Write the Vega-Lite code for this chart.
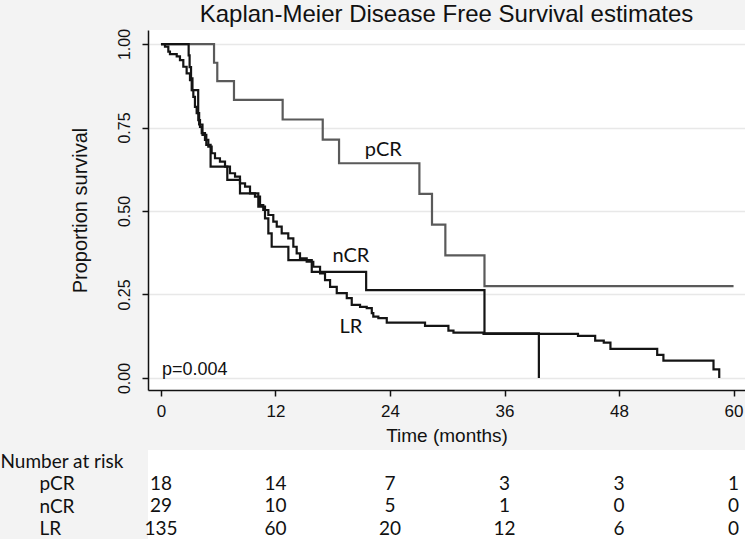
{
  "$schema": "https://vega.github.io/schema/vega-lite/v6.json",
  "background": "#f3f3f3",
  "padding": {"top": 3, "left": 0, "right": 0, "bottom": 0},
  "spacing": 5,
  "config": {"view": {"stroke": null}, "font": "Liberation Sans"},
  "datasets": {
    "km": [
      {"group": "pCR", "t": 0, "s": 1},
      {"group": "pCR", "t": 5.56, "s": 0.944},
      {"group": "pCR", "t": 5.9, "s": 0.889},
      {"group": "pCR", "t": 7.65, "s": 0.833},
      {"group": "pCR", "t": 12.75, "s": 0.774},
      {"group": "pCR", "t": 16.95, "s": 0.714},
      {"group": "pCR", "t": 18.66, "s": 0.643},
      {"group": "pCR", "t": 27.08, "s": 0.551},
      {"group": "pCR", "t": 28.4, "s": 0.459},
      {"group": "pCR", "t": 29.8, "s": 0.367},
      {"group": "pCR", "t": 33.9, "s": 0.275},
      {"group": "pCR", "t": 60, "s": 0.275},
      {"group": "nCR", "t": 0, "s": 1},
      {"group": "nCR", "t": 2.9, "s": 0.966},
      {"group": "nCR", "t": 3.0, "s": 0.931},
      {"group": "nCR", "t": 3.15, "s": 0.897},
      {"group": "nCR", "t": 3.3, "s": 0.862},
      {"group": "nCR", "t": 3.9, "s": 0.793},
      {"group": "nCR", "t": 4.0, "s": 0.759},
      {"group": "nCR", "t": 4.35, "s": 0.728},
      {"group": "nCR", "t": 4.75, "s": 0.698},
      {"group": "nCR", "t": 5.2, "s": 0.633},
      {"group": "nCR", "t": 6.95, "s": 0.593},
      {"group": "nCR", "t": 8.28, "s": 0.553},
      {"group": "nCR", "t": 10.2, "s": 0.513},
      {"group": "nCR", "t": 10.9, "s": 0.478},
      {"group": "nCR", "t": 11.25, "s": 0.433},
      {"group": "nCR", "t": 11.6, "s": 0.393},
      {"group": "nCR", "t": 13.35, "s": 0.353},
      {"group": "nCR", "t": 15.8, "s": 0.318},
      {"group": "nCR", "t": 21.5, "s": 0.263},
      {"group": "nCR", "t": 33.9, "s": 0.134},
      {"group": "nCR", "t": 39.6, "s": 0},
      {"group": "LR", "t": 0, "s": 1},
      {"group": "LR", "t": 0.42, "s": 0.992},
      {"group": "LR", "t": 0.77, "s": 0.977},
      {"group": "LR", "t": 0.94, "s": 0.97},
      {"group": "LR", "t": 1.65, "s": 0.963},
      {"group": "LR", "t": 1.99, "s": 0.952},
      {"group": "LR", "t": 2.34, "s": 0.932},
      {"group": "LR", "t": 2.69, "s": 0.912},
      {"group": "LR", "t": 3.04, "s": 0.892},
      {"group": "LR", "t": 3.22, "s": 0.862},
      {"group": "LR", "t": 3.39, "s": 0.842},
      {"group": "LR", "t": 3.56, "s": 0.812},
      {"group": "LR", "t": 3.74, "s": 0.793},
      {"group": "LR", "t": 3.91, "s": 0.772},
      {"group": "LR", "t": 4.09, "s": 0.752},
      {"group": "LR", "t": 4.27, "s": 0.733},
      {"group": "LR", "t": 4.61, "s": 0.713},
      {"group": "LR", "t": 4.96, "s": 0.693},
      {"group": "LR", "t": 5.31, "s": 0.673},
      {"group": "LR", "t": 5.66, "s": 0.658},
      {"group": "LR", "t": 6.18, "s": 0.648},
      {"group": "LR", "t": 6.71, "s": 0.633},
      {"group": "LR", "t": 7.23, "s": 0.613},
      {"group": "LR", "t": 7.76, "s": 0.603},
      {"group": "LR", "t": 8.28, "s": 0.583},
      {"group": "LR", "t": 8.81, "s": 0.573},
      {"group": "LR", "t": 9.33, "s": 0.553},
      {"group": "LR", "t": 9.85, "s": 0.543},
      {"group": "LR", "t": 10.38, "s": 0.518},
      {"group": "LR", "t": 10.72, "s": 0.503},
      {"group": "LR", "t": 11.25, "s": 0.488},
      {"group": "LR", "t": 11.77, "s": 0.468},
      {"group": "LR", "t": 12.13, "s": 0.453},
      {"group": "LR", "t": 12.65, "s": 0.433},
      {"group": "LR", "t": 13.34, "s": 0.418},
      {"group": "LR", "t": 13.87, "s": 0.393},
      {"group": "LR", "t": 14.22, "s": 0.373},
      {"group": "LR", "t": 14.57, "s": 0.358},
      {"group": "LR", "t": 15.27, "s": 0.348},
      {"group": "LR", "t": 15.96, "s": 0.333},
      {"group": "LR", "t": 16.67, "s": 0.313},
      {"group": "LR", "t": 17.19, "s": 0.293},
      {"group": "LR", "t": 17.72, "s": 0.273},
      {"group": "LR", "t": 18.42, "s": 0.254},
      {"group": "LR", "t": 19.47, "s": 0.239},
      {"group": "LR", "t": 19.99, "s": 0.219},
      {"group": "LR", "t": 20.86, "s": 0.213},
      {"group": "LR", "t": 21.56, "s": 0.209},
      {"group": "LR", "t": 22.09, "s": 0.194},
      {"group": "LR", "t": 22.25, "s": 0.184},
      {"group": "LR", "t": 22.78, "s": 0.179},
      {"group": "LR", "t": 23.66, "s": 0.166},
      {"group": "LR", "t": 27.67, "s": 0.156},
      {"group": "LR", "t": 30.12, "s": 0.142},
      {"group": "LR", "t": 30.65, "s": 0.136},
      {"group": "LR", "t": 33.8, "s": 0.132},
      {"group": "LR", "t": 43.7, "s": 0.126},
      {"group": "LR", "t": 45.5, "s": 0.112},
      {"group": "LR", "t": 46.4, "s": 0.106},
      {"group": "LR", "t": 47.1, "s": 0.087},
      {"group": "LR", "t": 52.0, "s": 0.069},
      {"group": "LR", "t": 52.65, "s": 0.052},
      {"group": "LR", "t": 57.9, "s": 0.026},
      {"group": "LR", "t": 58.5, "s": 0}
    ],
    "labels": [
      {"t": 23.3, "s": 0.683, "label": "pCR", "kind": "curve"},
      {"t": 19.9, "s": 0.365, "label": "nCR", "kind": "curve"},
      {"t": 19.9, "s": 0.153, "label": "LR", "kind": "curve"},
      {"t": 0.1, "s": 0.024, "label": "p=0.004", "kind": "p"}
    ],
    "risk": [
      {"group": "pCR", "t": 0, "n": 18},
      {"group": "pCR", "t": 12, "n": 14},
      {"group": "pCR", "t": 24, "n": 7},
      {"group": "pCR", "t": 36, "n": 3},
      {"group": "pCR", "t": 48, "n": 3},
      {"group": "pCR", "t": 60, "n": 1},
      {"group": "nCR", "t": 0, "n": 29},
      {"group": "nCR", "t": 12, "n": 10},
      {"group": "nCR", "t": 24, "n": 5},
      {"group": "nCR", "t": 36, "n": 1},
      {"group": "nCR", "t": 48, "n": 0},
      {"group": "nCR", "t": 60, "n": 0},
      {"group": "LR", "t": 0, "n": 135},
      {"group": "LR", "t": 12, "n": 60},
      {"group": "LR", "t": 24, "n": 20},
      {"group": "LR", "t": 36, "n": 12},
      {"group": "LR", "t": 48, "n": 6},
      {"group": "LR", "t": 60, "n": 0}
    ]
  },
  "vconcat": [
    {
      "title": {"text": "Kaplan-Meier Disease Free Survival estimates", "fontSize": 24, "font": "Liberation Sans", "fontWeight": "normal", "anchor": "middle", "offset": 1, "color": "#111111"},
      "width": 597,
      "height": 360,
      "view": {"fill": "white", "stroke": null},
      "layer": [
        {
          "data": {"name": "km"},
          "mark": {"type": "line", "interpolate": "step-after", "strokeWidth": 2.2},
          "encoding": {
            "x": {"field": "t", "type": "quantitative",
              "scale": {"domain": [-1.36, 61.2], "nice": false, "zero": false},
              "axis": {"values": [0, 12, 24, 36, 48, 60], "grid": false, "labelFontSize": 17, "labelColor": "#111111", "labelPadding": 7, "tickSize": 6, "tickColor": "#111111", "tickWidth": 1.5, "domainColor": "#111111", "domainWidth": 1.5, "title": "Time (months)", "titleFontSize": 19, "titleFontWeight": "normal", "titleColor": "#111111", "titlePadding": 7}},
            "y": {"field": "s", "type": "quantitative",
              "scale": {"domain": [-0.036, 1.042], "nice": false, "zero": false},
              "axis": {"values": [0, 0.25, 0.5, 0.75, 1], "format": ".2f", "labelAngle": -90, "labelAlign": "center", "labelBaseline": "bottom", "labelFontSize": 16, "labelColor": "#111111", "labelPadding": 10, "tickSize": 6, "tickColor": "#111111", "tickWidth": 1.5, "domainColor": "#111111", "domainWidth": 1.5, "grid": true, "gridColor": "#e8e8e8", "gridWidth": 1.5, "title": "Proportion survival", "titleFontSize": 20, "titleFontWeight": "normal", "titleColor": "#111111", "titlePadding": 26}},
            "color": {"field": "group", "type": "nominal", "scale": {"domain": ["pCR", "nCR", "LR"], "range": ["#5a5a5a", "#141414", "#141414"]}, "legend": null}
          }
        },
        {
          "data": {"name": "labels"},
          "transform": [{"filter": "datum.kind == 'curve'"}],
          "mark": {"type": "text", "font": "Lato", "fontSize": 20, "color": "#111111", "align": "center", "baseline": "middle"},
          "encoding": {
            "x": {"field": "t", "type": "quantitative"},
            "y": {"field": "s", "type": "quantitative"},
            "text": {"field": "label"}
          }
        },
        {
          "data": {"name": "labels"},
          "transform": [{"filter": "datum.kind == 'p'"}],
          "mark": {"type": "text", "font": "Liberation Sans", "fontSize": 18, "color": "#111111", "align": "left", "baseline": "middle"},
          "encoding": {
            "x": {"field": "t", "type": "quantitative"},
            "y": {"field": "s", "type": "quantitative"},
            "text": {"field": "label"}
          }
        }
      ]
    },
    {
      "width": 597,
      "height": 90,
      "view": {"fill": "white", "stroke": null},
      "data": {"name": "risk"},
      "mark": {"type": "text", "font": "Lato", "fontSize": 19, "color": "#111111", "align": "center", "baseline": "middle"},
      "encoding": {
        "x": {"field": "t", "type": "quantitative", "scale": {"domain": [-1.36, 61.2], "nice": false, "zero": false}, "axis": null},
        "y": {"field": "group", "type": "nominal", "scale": {"domain": ["Number at risk", "pCR", "nCR", "LR"]},
          "axis": {"title": null, "domain": false, "ticks": false, "tickSize": 0, "grid": false, "labelFont": "Lato", "labelFontSize": 19, "labelColor": "#111111", "labelAlign": "left", "labelLimit": 300,
            "labelPadding": {"condition": {"test": "datum.value == 'Number at risk'", "value": 148}, "value": 109}}},
        "text": {"field": "n"}
      }
    }
  ]
}
